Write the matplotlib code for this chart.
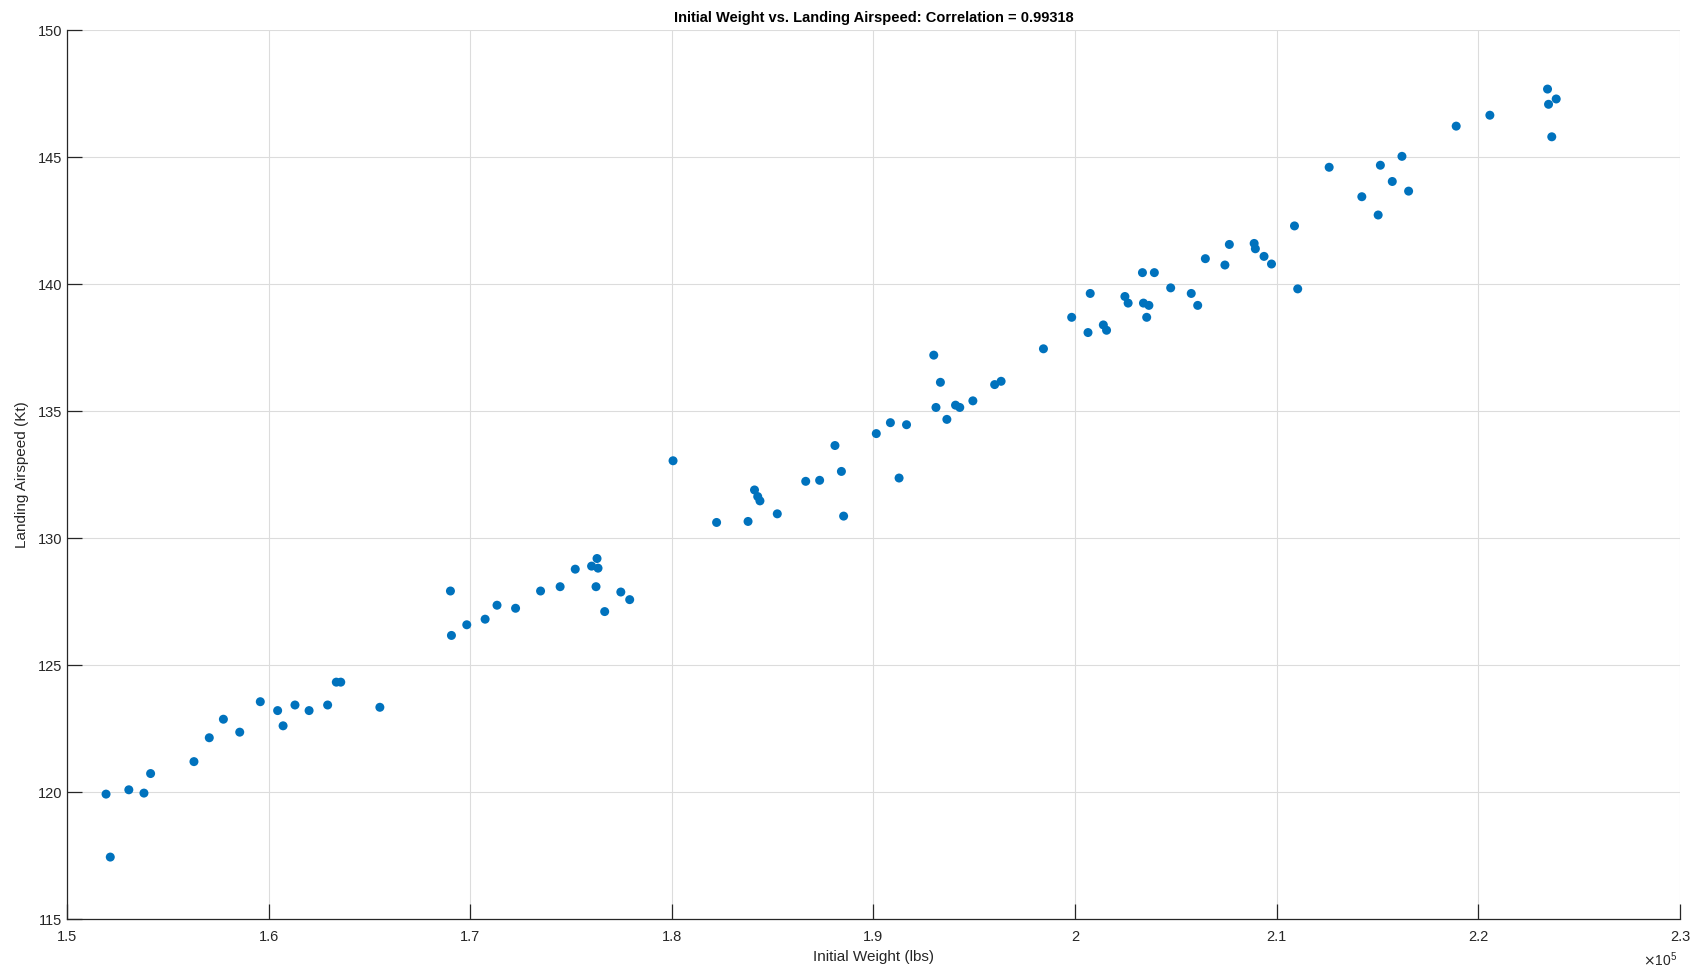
import matplotlib
matplotlib.use('Agg')
from matplotlib import pyplot as plt
from matplotlib.ticker import FuncFormatter

plt.rcParams['font.family'] = ['Liberation Sans', 'DejaVu Sans']

# initial weight (lbs)
weight = [151940, 152150, 153070, 153820, 154150, 156300, 157060, 157760, 158570, 159590,
          160450, 160720, 161310, 162010, 162930, 163360, 163580, 165520, 169020, 169070,
          169830, 170740, 171330, 172250, 173490, 174460, 175210, 176020, 176290, 176340,
          176240, 176670, 177470, 177910, 180060, 182220, 183780, 184100, 184260, 184370,
          185230, 186640, 187330, 188090, 188410, 188520, 190140, 190840, 191270, 191640,
          192990, 193100, 193320, 193640, 194070, 194280, 194930, 196010, 196330, 198430,
          199830, 200640, 200750, 201400, 201560, 202470, 202630, 203340, 203390, 203550,
          203660, 203930, 204740, 205760, 206080, 206460, 207430, 207650, 208880, 208940,
          209370, 209740, 210880, 211040, 212600, 214220, 215030, 215140, 215730, 216210,
          216540, 218900, 220570, 223430, 223480, 223860, 223640]
# landing airspeed (kt)
airspeed = [119.92, 117.44, 120.09, 119.96, 120.73, 121.20, 122.14, 122.87, 122.36, 123.56,
            123.21, 122.61, 123.43, 123.21, 123.43, 124.33, 124.33, 123.34, 127.92, 126.17,
            126.59, 126.81, 127.36, 127.24, 127.92, 128.09, 128.78, 128.90, 129.20, 128.82,
            128.09, 127.11, 127.88, 127.58, 133.05, 130.62, 130.66, 131.90, 131.64, 131.47,
            130.96, 132.24, 132.28, 133.65, 132.63, 130.87, 134.12, 134.55, 132.37, 134.47,
            137.21, 135.15, 136.14, 134.68, 135.24, 135.15, 135.41, 136.05, 136.18, 137.46,
            138.70, 138.10, 139.64, 138.40, 138.19, 139.52, 139.26, 140.46, 139.26, 138.70,
            139.17, 140.46, 139.86, 139.64, 139.17, 141.01, 140.76, 141.57, 141.61, 141.40,
            141.10, 140.80, 142.30, 139.82, 144.61, 143.45, 142.73, 144.69, 144.05, 145.04,
            143.67, 146.23, 146.66, 147.69, 147.09, 147.30, 145.81]

xticks = [150000, 160000, 170000, 180000, 190000, 200000, 210000, 220000, 230000]
yticks = [115, 120, 125, 130, 135, 140, 145, 150]

fig = plt.figure(figsize=(17.03, 9.72), dpi=100)
ax = fig.add_axes([0.0393, 0.0545, 0.9472, 0.9142])

ax.scatter(weight, airspeed, s=42, color='#0072BD', edgecolors='none', zorder=3)

ax.set_xlim(150000, 230000)
ax.set_ylim(115, 150)
ax.set_xticks(xticks)
ax.set_yticks(yticks)
ax.xaxis.set_major_formatter(FuncFormatter(lambda v, p: f'{v / 1e5:g}'))

ax.grid(True, color='#dcdcdc', linewidth=0.8, zorder=0)
ax.set_axisbelow(True)
for s in ['top', 'right']:
    ax.spines[s].set_visible(False)
for s in ['left', 'bottom']:
    ax.spines[s].set_color('#262626')
    ax.spines[s].set_linewidth(0.9)
ax.tick_params(direction='in', length=11, width=0.9, colors='#262626', labelsize=10.5)
ax.tick_params(axis='x', pad=8)

ax.set_title('Initial Weight vs. Landing Airspeed: Correlation = 0.99318',
             fontsize=10.5, fontweight='bold', color='black', pad=6)
ax.set_xlabel('Initial Weight (lbs)', fontsize=11, color='#262626', labelpad=4)
ax.set_ylabel('Landing Airspeed (Kt)', fontsize=11, color='#262626', labelpad=6)
ax.text(0.998, -0.046, r'$\times\mathregular{10^5}$', transform=ax.transAxes, ha='right', va='center',
        fontsize=10, color='#262626')

plt.savefig('out.png', dpi=100)
